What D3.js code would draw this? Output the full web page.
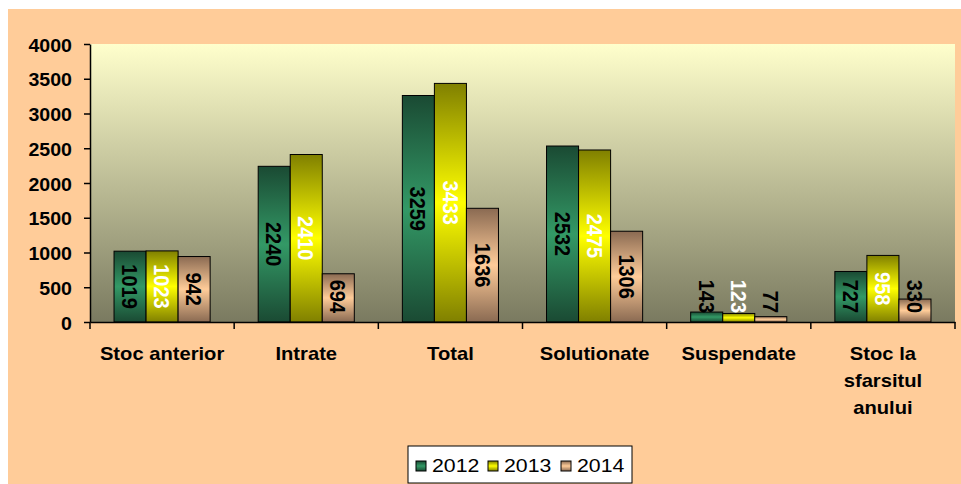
<!DOCTYPE html>
<html>
<head>
<meta charset="utf-8">
<script src="https://cdn.jsdelivr.net/npm/d3@7"></script>
<style>
  body { margin: 0; background: #fff; }
  svg { display: block; font-family: "Liberation Sans", Arial, sans-serif; }
</style>
</head>
<body>
<div class="canvas"></div>
<script>
// chart data
const categories = ['Stoc anterior', 'Intrate', 'Total', 'Solutionate', 'Suspendate', 'Stoc la sfarsitul anului'];
const categoryLines = [['Stoc anterior'], ['Intrate'], ['Total'], ['Solutionate'], ['Suspendate'], ['Stoc la', 'sfarsitul', 'anului']];
const years = ['2012', '2013', '2014'];
const values2012 = [1019, 2240, 3259, 2532, 143, 727];
const values2013 = [1023, 2410, 3433, 2475, 123, 958];
const values2014 = [942, 694, 1636, 1306, 77, 330];
const yTicks = [0, 500, 1000, 1500, 2000, 2500, 3000, 3500, 4000];

const seriesValues = [values2012, values2013, values2014];
const seriesColors = [
  { dark: '#1a4a33', light: '#339966', label: '#000' },
  { dark: '#808000', light: '#ffff00', label: '#fff' },
  { dark: '#8a6a52', light: '#ffcc99', label: '#000' }
];

// graph dimensions
const width = 961, height = 484;
const margin = { top: 44, right: 6, bottom: 162, left: 90 };
const graphWidth = 955 - margin.left;
const graphHeight = 322 - margin.top;
const stretch = 1.12; // text in the picture is a bit wider than tall

const svg = d3.select('.canvas')
  .append('svg')
  .attr('width', width)
  .attr('height', height);

const defs = svg.append('defs');

// plot background gradient
const bg = defs.append('linearGradient')
  .attr('id', 'plotbg')
  .attr('x1', 0).attr('y1', 0).attr('x2', 0).attr('y2', 1);
bg.append('stop').attr('offset', 0).attr('stop-color', '#ffffcc');
bg.append('stop').attr('offset', 1).attr('stop-color', '#7a7a60');

// bar gradients (dark - light - dark)
seriesColors.forEach((c, i) => {
  const g = defs.append('linearGradient')
    .attr('id', 'bar' + i)
    .attr('x1', 0).attr('y1', 0).attr('x2', 0).attr('y2', 1);
  g.append('stop').attr('offset', 0).attr('stop-color', c.dark);
  g.append('stop').attr('offset', 0.5).attr('stop-color', c.light);
  g.append('stop').attr('offset', 1).attr('stop-color', c.dark);
});

// outer background
svg.append('rect')
  .attr('x', 8).attr('y', 9)
  .attr('width', width - 8).attr('height', height - 9)
  .attr('fill', '#ffcc99');

const graph = svg.append('g')
  .attr('transform', `translate(${margin.left}, ${margin.top})`);

graph.append('rect')
  .attr('width', graphWidth)
  .attr('height', graphHeight)
  .attr('fill', 'url(#plotbg)');

// scales
const x0 = d3.scaleBand().domain(categories).range([0, graphWidth]);
const x1 = d3.scaleBand().domain(years)
  .range([x0.bandwidth() / 6, x0.bandwidth() * 5 / 6]);
const y = d3.scaleLinear().domain([0, 4000]).range([graphHeight, 0]);

// bars
const barData = [];
categories.forEach((cat, ci) => {
  years.forEach((yr, si) => {
    barData.push({ cat, yr, si, value: seriesValues[si][ci] });
  });
});

graph.selectAll('rect.bar')
  .data(barData)
  .enter()
  .append('rect')
  .attr('class', 'bar')
  .attr('x', d => x0(d.cat) + x1(d.yr))
  .attr('y', d => y(d.value))
  .attr('width', x1.bandwidth())
  .attr('height', d => graphHeight - y(d.value))
  .attr('fill', d => `url(#bar${d.si})`)
  .attr('stroke', '#000')
  .attr('stroke-width', 1);

// value labels, rotated, centred in the bar but kept off the axis
const labelSize = 20;
graph.selectAll('text.val')
  .data(barData)
  .enter()
  .append('text')
  .attr('class', 'val')
  .attr('transform', d => {
    const len = String(d.value).length * 0.556 * labelSize;
    const cx = x0(d.cat) + x1(d.yr) + x1.bandwidth() / 2;
    const cy = Math.min((y(d.value) + graphHeight) / 2, graphHeight - 9 - len / 2);
    return `translate(${cx}, ${cy}) scale(${stretch}, 1) rotate(90)`;
  })
  .attr('text-anchor', 'middle')
  .attr('dominant-baseline', 'central')
  .attr('font-size', labelSize)
  .attr('font-weight', 'bold')
  .attr('fill', d => seriesColors[d.si].label)
  .text(d => d.value);

// y axis
const yAxis = d3.axisLeft(y)
  .tickValues(yTicks)
  .tickSize(6)
  .tickSizeOuter(0)
  .tickFormat(d => d);
const yAxisGroup = graph.append('g').call(yAxis);
yAxisGroup.select('.domain').attr('stroke-width', 1.5);
yAxisGroup.selectAll('.tick line').attr('stroke-width', 1.5);
yAxisGroup.selectAll('.tick text')
  .attr('x', null)
  .attr('dy', null)
  .attr('dominant-baseline', 'central')
  .attr('transform', `translate(-18, 1) scale(${stretch}, 1)`)
  .attr('font-size', 17.5)
  .attr('font-weight', 'bold')
  .attr('fill', '#000')
  .attr('font-family', null);

// x axis with labels at category centres
const xAxis = d3.axisBottom(x0).tickSize(0).tickSizeOuter(0).tickFormat('');
const xAxisGroup = graph.append('g')
  .attr('transform', `translate(0, ${graphHeight})`)
  .call(xAxis);
xAxisGroup.select('.domain').attr('stroke-width', 1.5);

// boundary ticks
const bounds = categories.map(c => x0(c)).concat([graphWidth]);
xAxisGroup.selectAll('line.bound')
  .data(bounds)
  .enter()
  .append('line')
  .attr('class', 'bound')
  .attr('x1', d => d).attr('x2', d => d)
  .attr('y1', 0).attr('y2', 7)
  .attr('stroke', '#000')
  .attr('stroke-width', 1.5);

// category labels
const catText = xAxisGroup.selectAll('text.cat')
  .data(categories)
  .enter()
  .append('text')
  .attr('class', 'cat')
  .attr('transform', d => `translate(${x0(d) + x0.bandwidth() / 2}, 38) scale(${stretch}, 1)`)
  .attr('text-anchor', 'middle')
  .attr('font-size', 18)
  .attr('font-weight', 'bold')
  .attr('fill', '#000');
catText.selectAll('tspan')
  .data((d, i) => categoryLines[i])
  .enter()
  .append('tspan')
  .attr('x', 0)
  .attr('dy', (d, i) => i === 0 ? 0 : 27)
  .text(d => d);

// legend
const legend = svg.append('g').attr('transform', 'translate(408, 446)');
legend.append('rect')
  .attr('width', 224).attr('height', 37)
  .attr('fill', '#fff')
  .attr('stroke', '#000')
  .attr('stroke-width', 1);
const legendX = [8, 80, 153];
const items = legend.selectAll('g.item')
  .data(years)
  .enter()
  .append('g')
  .attr('class', 'item')
  .attr('transform', (d, i) => `translate(${legendX[i]}, 0)`);
items.append('rect')
  .attr('y', 15).attr('width', 10).attr('height', 10)
  .attr('fill', (d, i) => `url(#bar${i})`)
  .attr('stroke', '#000');
items.append('text')
  .attr('transform', `translate(16, 26) scale(${stretch}, 1)`)
  .attr('font-size', 19)
  .attr('fill', '#000')
  .text(d => d);
</script>
</body>
</html>
